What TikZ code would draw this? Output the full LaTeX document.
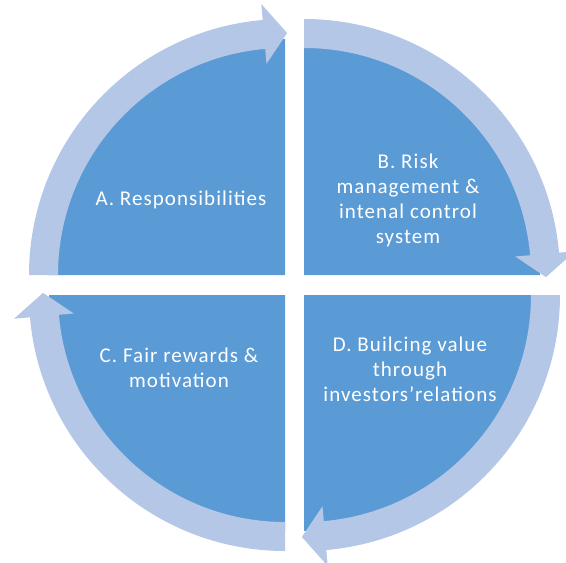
\documentclass[tikz,border=0pt]{standalone}
\usepackage{fontspec}
\setmainfont{Carlito}
\newfontfamily\lblfont[LetterSpace=5]{Carlito}
\usetikzlibrary{positioning}
\definecolor{piecol}{HTML}{5B9BD5}
\definecolor{bandcol}{HTML}{B4C7E7}

\begin{document}
\begin{tikzpicture}[x=1pt,y=1pt,pie/.style={fill=piecol},band/.style={fill=bandcol},lbl/.style={text=white,align=center,font=\lblfont\fontsize{21}{25}\selectfont}]
\useasboundingbox (0,0) rectangle (566,-563);
\coordinate (cA) at (285,-275);
\coordinate (cB) at (304,-275);
\coordinate (cC) at (285,-295);
\coordinate (cD) at (304,-295);
% quarters
\fill[pie] (cA) -- ++(180:236) arc[start angle=180,end angle=90,radius=236] -- cycle;
\fill[pie] (cB) -- ++(90:236) arc[start angle=90,end angle=0,radius=236] -- cycle;
\fill[pie] (cD) -- ++(0:236) arc[start angle=0,end angle=-90,radius=236] -- cycle;
\fill[pie] (cC) -- ++(270:236) arc[start angle=270,end angle=180,radius=236] -- cycle;
% curved arrows
\fill[band,shift={(cA)}] (180:227) -- (180:256) arc[start angle=180,end angle=95,radius=256] -- (95:272) -- (89.5:242) -- (95:212) -- (95:227) arc[start angle=95,end angle=180,radius=227] -- cycle;
\fill[band,shift={(cB)}] (90:227) -- (90:256) arc[start angle=90,end angle=5,radius=256] -- (5:272) -- (-0.5:242) -- (5:212) -- (5:227) arc[start angle=5,end angle=90,radius=227] -- cycle;
\fill[band,shift={(cD)}] (0:227) -- (0:256) arc[start angle=0,end angle=-85,radius=256] -- (-85:272) -- (-90.5:242) -- (-85:212) -- (-85:227) arc[start angle=-85,end angle=0,radius=227] -- cycle;
\fill[band,shift={(cC)}] (270:227) -- (270:256) arc[start angle=270,end angle=185,radius=256] -- (185:272) -- (179.5:242) -- (185:212) -- (185:227) arc[start angle=185,end angle=270,radius=227] -- cycle;
% labels
\node[lbl] (respA) at (181,-200) {A. Responsibilities};
\node[lbl] (riskB) at (408,-200) {B. Risk\\management \&\\intenal control\\system};
\node[lbl] (fairC) at (179,-368) {C. Fair rewards \&\\motivation};
\node[lbl] (valueD) at (410,-369) {D. Builcing value\\through\\investors’relations};
\end{tikzpicture}
\end{document}
